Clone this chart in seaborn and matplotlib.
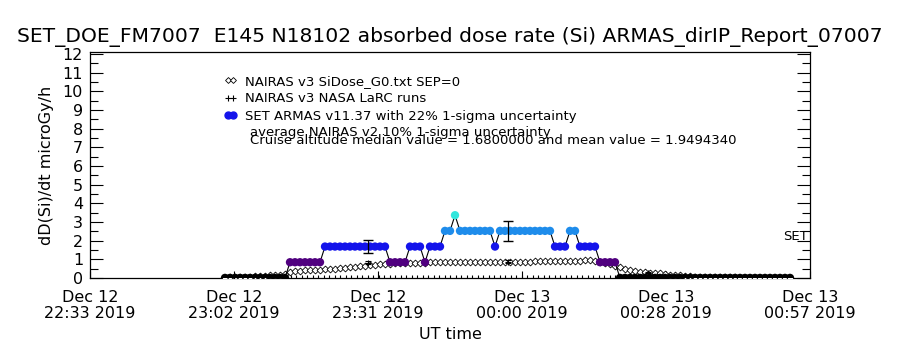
import matplotlib
matplotlib.use('Agg')
import matplotlib.pyplot as plt
import seaborn as sns
import numpy as np
import pandas as pd
from matplotlib.lines import Line2D
from matplotlib.ticker import MultipleLocator, FixedLocator

sns.set_style('ticks')
plt.rcParams['font.family'] = ['DejaVu Sans']
for k in ['text.color', 'axes.labelcolor', 'xtick.color', 'ytick.color', 'axes.edgecolor']:
    plt.rcParams[k] = 'black'

# minutes after the start of the axis (22:33 UT), 1-minute samples 23:00 .. 00:53
minutes = np.arange(27, 141)

# SET ARMAS dose rate (quantized), microGy/h
armas = [
    0, 0, 0, 0, 0, 0, 0, 0, 0, 0, 0, 0, 0,
    0.84, 0.84, 0.84, 0.84, 0.84, 0.84, 0.84,
    1.68, 1.68, 1.68, 1.68, 1.68, 1.68, 1.68, 1.68, 1.68, 1.68, 1.68, 1.68, 1.68,
    0.84, 0.84, 0.84, 0.84,
    1.68, 1.68, 1.68,
    0.84,
    1.68, 1.68, 1.68,
    2.52, 2.52,
    3.36,
    2.52, 2.52, 2.52, 2.52, 2.52, 2.52, 2.52,
    1.68,
    2.52, 2.52, 2.52, 2.52, 2.52, 2.52, 2.52, 2.52, 2.52, 2.52, 2.52,
    1.68, 1.68, 1.68,
    2.52, 2.52,
    1.68, 1.68, 1.68, 1.68,
    0.84, 0.84, 0.84, 0.84,
    0, 0, 0, 0, 0, 0, 0, 0, 0, 0, 0, 0, 0, 0, 0, 0, 0, 0,
    0, 0, 0, 0, 0, 0, 0, 0, 0, 0, 0, 0, 0, 0, 0, 0, 0,
]

# NAIRAS v3 SiDose_G0 model, same sample times
nairas = [
    0.02, 0.03, 0.04, 0.05, 0.06, 0.07, 0.09, 0.10, 0.12, 0.14, 0.16, 0.18, 0.22, 0.32,
    0.36, 0.38, 0.40, 0.41, 0.43, 0.45, 0.47, 0.48, 0.50, 0.52,
    0.55, 0.58, 0.61, 0.63, 0.66, 0.68, 0.71, 0.73, 0.75, 0.76,
    0.78, 0.79, 0.80, 0.81, 0.81, 0.82, 0.82, 0.83, 0.83, 0.84,
    0.84, 0.84, 0.85, 0.85, 0.85, 0.85, 0.86, 0.86, 0.86, 0.86,
    0.86, 0.86, 0.87, 0.87, 0.87, 0.87, 0.87, 0.87, 0.88, 0.88,
    0.89, 0.89, 0.90, 0.90, 0.91, 0.91, 0.92, 0.93, 0.95, 0.97,
    0.90, 0.83, 0.78, 0.72, 0.66, 0.58, 0.50, 0.42, 0.36, 0.31,
    0.29, 0.28, 0.27, 0.26, 0.22, 0.18, 0.15, 0.13, 0.10, 0.08,
    0.07, 0.06, 0.05, 0.05, 0.04, 0.04, 0.03, 0.03, 0.03, 0.02,
    0.02, 0.02, 0.02, 0.02, 0.02, 0.02, 0.02, 0.02, 0.02, 0.02,
]

# NAIRAS v3 NASA LaRC runs (10% 1-sigma)
larc_t = [28.8, 55.6, 83.6, 111.6]
larc_v = [0.03, 0.80, 0.86, 0.28]

# ARMAS bin averages with 22% 1-sigma
bin_t = [55.6, 83.6]
bin_v = [1.68, 2.52]

tick_labels = ["Dec 12\n22:33 2019", "Dec 12\n23:02 2019", "Dec 12\n23:31 2019",
               "Dec 13\n00:00 2019", "Dec 13\n00:28 2019", "Dec 13\n00:57 2019"]

level_colors = {0: '#000000', 0.84: '#50007f', 1.68: '#1414eb', 2.52: '#1e8ceb', 3.36: '#32e6dc'}

df = pd.DataFrame({'t': minutes, 'armas': armas, 'nairas': nairas})

fig = plt.figure(figsize=(9, 3.5), dpi=100)
ax = fig.add_axes([0.1, 0.206, 0.8, 0.645])

sns.lineplot(data=df, x='t', y='nairas', ax=ax, color='black', lw=0.7, marker='D',
             ms=3.5, mfc='white', mec='black', mew=0.6, zorder=3)
sns.lineplot(data=df, x='t', y='armas', ax=ax, color='black', lw=0.8, zorder=4)
sns.scatterplot(data=df, x='t', y='armas', hue='armas', palette=level_colors, ax=ax,
                s=36, linewidth=0, legend=False, zorder=5)

ax.errorbar(larc_t, larc_v, yerr=[0.1 * v for v in larc_v], fmt='+', color='black',
            ms=5, mew=0.8, elinewidth=0.8, capsize=2.5, zorder=6)
ax.errorbar(bin_t, bin_v, yerr=[0.22 * v for v in bin_v], fmt='none', ecolor='black',
            elinewidth=0.9, capsize=3.5, zorder=6)

ax.set_xlim(0, 144)
ax.set_ylim(0, 12.1)
ax.set_xticks(np.linspace(0, 144, 6))
ax.set_xticklabels(tick_labels, fontsize=11.5, linespacing=1.05)
ax.xaxis.set_minor_locator(FixedLocator(np.arange(28, 141, 1.1)))
ax.yaxis.set_major_locator(MultipleLocator(1))
ax.yaxis.set_minor_locator(MultipleLocator(0.5))
ax.tick_params(axis='y', which='major', direction='in', length=9.5, width=0.8,
               right=True, labelsize=11.5, pad=5)
ax.tick_params(axis='y', which='minor', direction='in', length=5.5, width=0.8, right=True)
ax.tick_params(axis='x', which='major', direction='in', length=5, width=0.8, top=False, pad=9)
ax.tick_params(axis='x', which='minor', direction='in', length=2.5, width=0.8, top=False)
for s in ax.spines.values():
    s.set_linewidth(0.9)

ax.set_xlabel('UT time', fontsize=11.5, labelpad=4)
ax.set_ylabel('dD(Si)/dt microGy/h', fontsize=11.5, labelpad=6)

fig.text(0.5, 0.894, 'SET_DOE_FM7007  E145 N18102 absorbed dose rate (Si) ARMAS_dirIP_Report_07007',
         ha='center', va='center', fontsize=14.6)

handles = [
    Line2D([], [], marker='D', ls='none', mfc='white', mec='black', mew=0.6, ms=3),
    Line2D([], [], marker='+', ls='none', color='black', ms=5, mew=0.8),
    Line2D([], [], marker='o', ls='none', color=level_colors[1.68], ms=5),
]
labels = ['NAIRAS v3 SiDose_G0.txt SEP=0', 'NAIRAS v3 NASA LaRC runs',
          'SET ARMAS v11.37 with 22% 1-sigma uncertainty']
fig.legend(handles, labels, loc='upper left', bbox_to_anchor=(0.249, 0.787), frameon=False,
           numpoints=2, handlelength=1.0, handletextpad=0.6, labelspacing=0.35,
           fontsize=9.5, borderaxespad=0, borderpad=0)
fig.text(0.278, 1 - 132 / 350, 'average NAIRAS v2 10% 1-sigma uncertainty',
         ha='left', va='center', fontsize=9.5)
fig.text(0.278, 1 - 141 / 350,
         'Cruise altitude median value = 1.6800000 and mean value = 1.9494340',
         ha='left', va='center', fontsize=9.5)
fig.text(0.898, 1 - 236 / 350, 'SET', ha='right', va='center', fontsize=9.5)

fig.savefig('out.png', dpi=100)
